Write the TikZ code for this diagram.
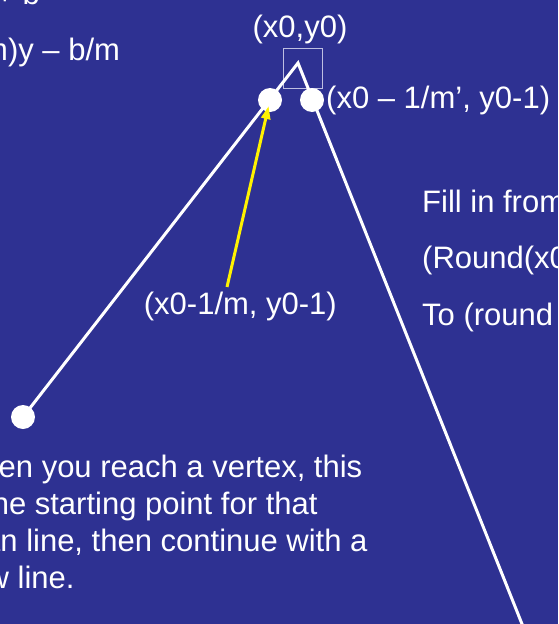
\documentclass[tikz,border=0pt]{standalone}
\usepackage{fontspec}
\setmainfont{Liberation Sans}
\usepackage{xcolor}
\usetikzlibrary{arrows.meta}

\definecolor{slideblue}{RGB}{46,49,146}
\definecolor{boxline}{RGB}{190,190,225}

\begin{document}
\begin{tikzpicture}[x=1pt,y=-1pt,
  txt/.style={text=white, inner sep=0pt, font=\fontsize{31}{37}\selectfont},
  dot/.style={circle, fill=white, minimum size=24pt, inner sep=0pt},
  sideline/.style={white, line width=3pt},
  yarrow/.style={yellow, line width=3pt, -{Triangle[length=13pt,width=9pt]}}]
  \useasboundingbox (0,0) rectangle (558,624);
  \clip (0,0) rectangle (558,624);
  \fill[slideblue] (0,0) rectangle (558,624);

  % line equations, top left
  \node[txt, anchor=base west, align=left, font=\fontsize{31}{56}\selectfont] (eqs) at (-105,60) {y = mx + b\\x = (1/m)y – b/m};

  % starting pixel
  \draw[boxline, line width=1pt] (283,48) rectangle (322,88);
  \node[txt, anchor=base] (start) at (300,37) {(x0,y0)};

  % the two edges meeting at the top vertex
  \coordinate (peak) at (298,63);
  \coordinate (low) at (526,634);
  \node[dot] (vleft) at (270,100) {};
  \node[dot] (vright) at (312,100) {};
  \node[dot] (vend) at (23,417) {};
  \draw[sideline] (vend.center) -- (peak) -- (low);

  \node[txt, anchor=base west] (rlbl) at (326,108) {(x0 – 1/m’, y0-1)};
  \node[txt, anchor=base east] (llbl) at (337,314) {(x0-1/m, y0-1)};
  \coordinate (ytail) at (227,287);
  \draw[yarrow, shorten >=-6pt] (ytail) -- (vleft);

  % fill span
  \node[txt, anchor=base west, align=left, font=\fontsize{31}{56.5}\selectfont] (span) at (422,325) {Fill in from\\(Round(x0\\To (round};

  % note on vertices
  \node[txt, anchor=base west, align=left] (note) at (-48,588) {When you reach a vertex, this\\is the starting point for that\\scan line, then continue with a\\new line.};
\end{tikzpicture}
\end{document}
